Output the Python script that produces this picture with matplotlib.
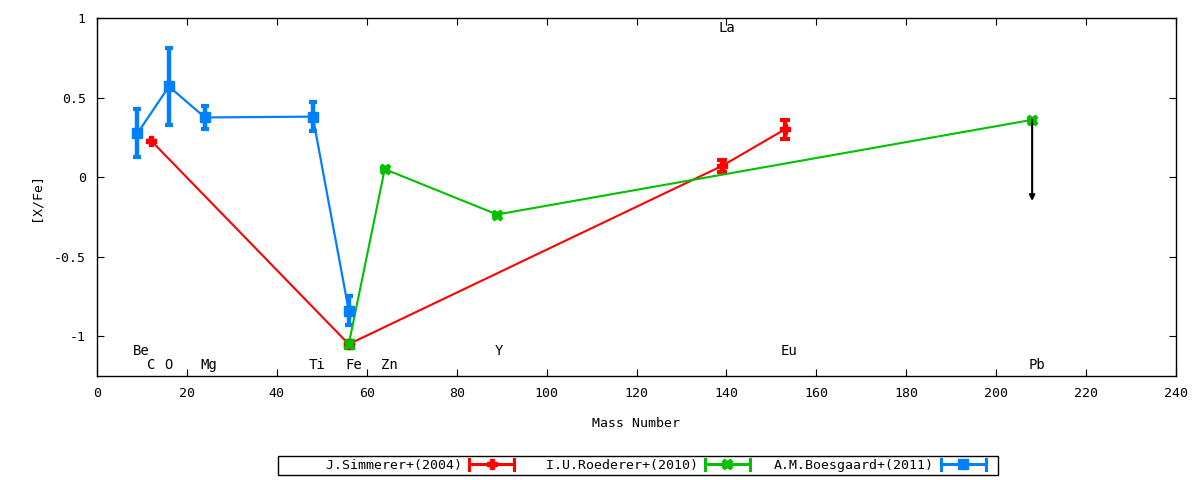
import numpy as np
import matplotlib.pyplot as plt
from matplotlib.lines import Line2D
from matplotlib.patches import Rectangle
from matplotlib.legend_handler import HandlerBase

plt.rcParams['font.family'] = ['DejaVu Sans Mono']
plt.rcParams['font.size'] = 9.5

# J.Simmerer+(2004)
sim_x = [12, 56, 139, 153]
sim_y = [0.23, -1.05, 0.07, 0.30]
sim_e = [0.0, 0.0, 0.035, 0.06]

# I.U.Roederer+(2010)
roe_x = [56, 64, 89, 208]
roe_y = [-1.05, 0.05, -0.235, 0.36]
roe_e = [0.0, 0.0, 0.0, 0.0]
roe_lim_x = 208
roe_lim_to = -0.15

# A.M.Boesgaard+(2011)
boe_x = [9, 16, 24, 48, 56]
boe_y = [0.275, 0.57, 0.375, 0.38, -0.84]
boe_e = [0.15, 0.24, 0.07, 0.09, 0.09]

# element labels
el_names = ['Be', 'C', 'O', 'Mg', 'Ti', 'Fe', 'Zn', 'Y', 'La', 'Eu', 'Pb']
el_x = [9.9, 12, 16, 24.9, 49, 57, 65, 89.5, 140, 154, 209]
el_y = [-1.09, -1.18, -1.18, -1.18, -1.18, -1.18, -1.18, -1.09, 0.94, -1.09, -1.18]

RED, GREEN, BLUE = '#ff0000', '#00c000', '#0080ff'
MK = {RED: dict(marker='P', ms=7),
      GREEN: dict(marker='X', ms=7.5),
      BLUE: dict(marker='s', ms=7)}


class CapLine(HandlerBase):
    # gnuplot style key sample: line with end caps and a point in the middle
    def create_artists(self, legend, orig, xd, yd, w, h, fs, trans):
        y = h / 2 - yd
        x0, x1 = -xd, -xd + w
        c = orig.get_color()
        art = [Line2D([x0, x1], [y, y], color=c, lw=2.2)]
        for xx in (x0, x1):
            art.append(Line2D([xx, xx], [y - 4, y + 4], color=c, lw=2.2))
        art.append(Line2D([(x0 + x1) / 2], [y], color=c, ls='none', **MK[c]))
        for a in art:
            a.set_transform(trans)
        return art


fig = plt.figure(figsize=(12, 4.8), dpi=100)
ax = fig.add_axes([97/1200, 1-376/480, (1176-97)/1200, (376-18)/480])

ax.errorbar(sim_x, sim_y, yerr=sim_e, color=RED, lw=1.5,
            elinewidth=3, capsize=3.5, capthick=3, **MK[RED])
ax.errorbar(roe_x, roe_y, yerr=roe_e, color=GREEN, lw=1.5,
            elinewidth=3, capsize=3.5, capthick=3, **MK[GREEN])
ax.plot([56], [-1.05], marker='s', color=GREEN, ms=7, ls='none')
ax.errorbar(boe_x, boe_y, yerr=boe_e, color=BLUE, lw=1.6,
            elinewidth=3.2, capsize=3.2, capthick=3, **MK[BLUE])

ax.annotate('', xy=(roe_lim_x, roe_lim_to), xytext=(roe_lim_x, roe_y[-1]),
            arrowprops=dict(arrowstyle='-|>', color='black', lw=1.5,
                            mutation_scale=8, shrinkA=0, shrinkB=0))

for n, x, y in zip(el_names, el_x, el_y):
    ax.text(x, y, n, ha='center', va='center', fontsize=10)

ax.set_xlim(0, 240)
ax.set_ylim(-1.25, 1)
ax.set_xticks(np.arange(0, 241, 20))
ax.set_yticks([-1, -0.5, 0, 0.5, 1])
ax.set_yticklabels(['-1', '-0.5', '0', '0.5', '1'])
ax.tick_params(direction='in', top=True, right=True, length=5, pad=8)
for s in ax.spines.values():
    s.set_linewidth(1)

ax.set_xlabel('Mass Number', labelpad=12)
ax.set_ylabel('[X/Fe]', labelpad=8)

names = ['J.Simmerer+(2004)', 'I.U.Roederer+(2010)', 'A.M.Boesgaard+(2011)']
handles = [Line2D([], [], color=c) for c in (RED, GREEN, BLUE)]
labels = [n.rjust(20) for n in names]
fig.legend(handles, labels, loc='center', ncol=3,
           bbox_to_anchor=(644/1200, 1-465.5/480), markerfirst=False,
           handlelength=3.4, handletextpad=0.53, columnspacing=1.8,
           borderpad=0, borderaxespad=0, frameon=False,
           handler_map={Line2D: CapLine()})
fig.patches.append(Rectangle((278/1200, 1-475/480), 720/1200, 19/480,
                             transform=fig.transFigure, fill=False,
                             edgecolor='black', lw=1))

fig.savefig('out.png', dpi=100)
